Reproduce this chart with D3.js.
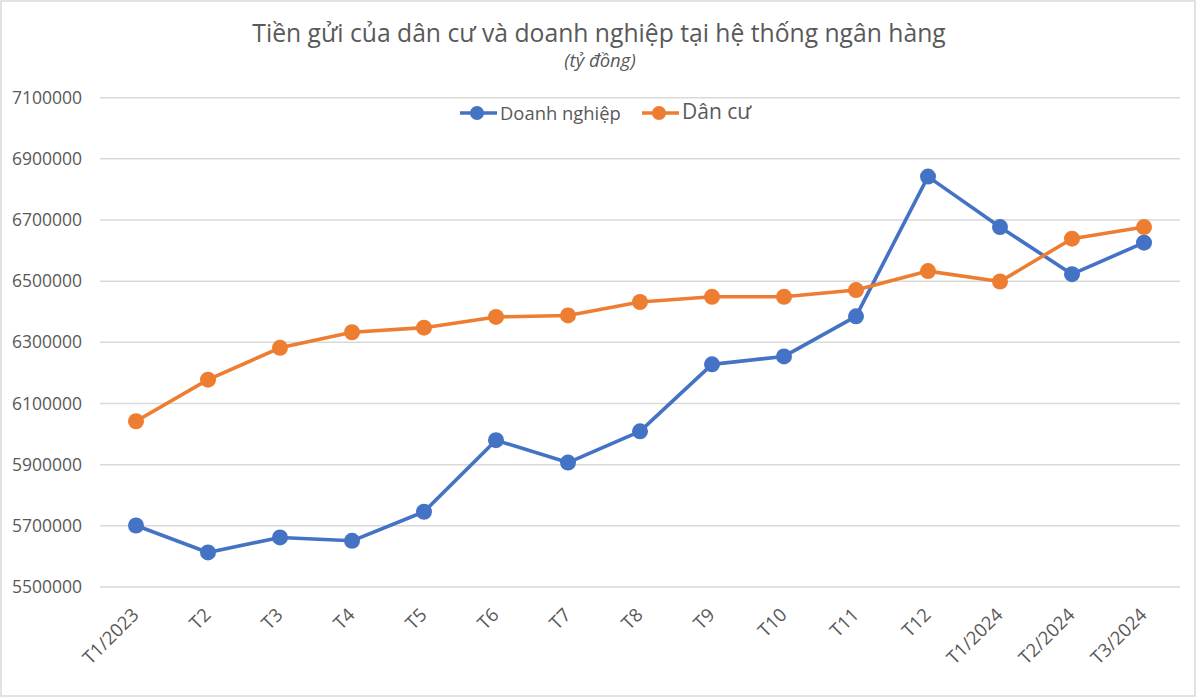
<!DOCTYPE html>
<html>
<head>
<meta charset="utf-8">
<script src="https://cdn.jsdelivr.net/npm/d3@7"></script>
<style>
  html, body { margin: 0; padding: 0; background: #ffffff; }
  svg { display: block; }
  text { font-family: "Open Sans", "Noto Sans", sans-serif; fill: #595959; }
</style>
</head>
<body>
<svg id="chart" width="1200" height="698"></svg>
<script>
const categories = ["T1/2023", "T2", "T3", "T4", "T5", "T6", "T7", "T8", "T9", "T10", "T11", "T12", "T1/2024", "T2/2024", "T3/2024"];
const doanhNghiep = [5701000, 5613000, 5662000, 5651000, 5746000, 5980000, 5907000, 6009000, 6228000, 6254000, 6385000, 6842000, 6677000, 6523000, 6626000];
const danCu = [6042000, 6178000, 6282000, 6333000, 6348000, 6383000, 6388000, 6432000, 6449000, 6449000, 6471000, 6533000, 6499000, 6639000, 6677000];
const yTicks = [5500000, 5700000, 5900000, 6100000, 6300000, 6500000, 6700000, 6900000, 7100000];
const seriesNames = ["Doanh nghiệp", "Dân cư"];
const titleText = "Tiền gửi của dân cư và doanh nghiệp tại hệ thống ngân hàng";
const subtitleText = "(tỷ đồng)";

const colors = ["#4472C4", "#ED7D31"];
const series = [doanhNghiep, danCu];

const svg = d3.select("#chart");
const W = 1200, H = 698;

svg.append("rect").attr("x", 0).attr("y", 0).attr("width", W).attr("height", H).attr("fill", "#ffffff");
svg.append("rect").attr("x", 1).attr("y", 1).attr("width", 1194).attr("height", 695)
  .attr("fill", "none").attr("stroke", "#d9d9d9").attr("stroke-width", 1.5);

const plot = { left: 100, right: 1180, top: 97.7, bottom: 587 };

const x = d3.scaleBand().domain(categories).range([plot.left, plot.right]).paddingInner(0).paddingOuter(0);
const y = d3.scaleLinear().domain([5500000, 7100000]).range([plot.bottom, plot.top]);

// gridlines
svg.append("g").selectAll("line").data(yTicks).join("line")
  .attr("x1", plot.left).attr("x2", plot.right)
  .attr("y1", d => y(d)).attr("y2", d => y(d))
  .attr("stroke", "#d9d9d9").attr("stroke-width", 1.5);

// y axis labels
const yAxis = d3.axisLeft(y).tickValues(yTicks).tickSize(0).tickPadding(0).tickFormat(d3.format("d"));
const yg = svg.append("g").attr("transform", `translate(${plot.left - 18},0)`).call(yAxis);
yg.select(".domain").remove();
yg.selectAll("text").style("font-size", "17.5px").attr("fill", "#595959")
  .style("font-family", '"Open Sans", sans-serif');

// x axis labels
const xAxis = d3.axisBottom(x).tickSize(0).tickPadding(0);
const xg = svg.append("g").attr("transform", `translate(0,${plot.bottom})`).call(xAxis);
xg.select(".domain").remove();
xg.selectAll("text")
  .style("font-size", "18.5px").attr("fill", "#595959")
  .style("font-family", '"Open Sans", sans-serif')
  .attr("text-anchor", "end")
  .attr("y", 0).attr("dy", 0)
  .attr("transform", "translate(4,29) rotate(-45)");

// lines
const line = d3.line().x((d, i) => x(categories[i]) + x.bandwidth() / 2).y(d => y(d));
series.forEach((s, k) => {
  svg.append("path").datum(s).attr("d", line)
    .attr("fill", "none").attr("stroke", colors[k]).attr("stroke-width", 3.6)
    .attr("stroke-linejoin", "round");
  svg.append("g").selectAll("circle").data(s).join("circle")
    .attr("cx", (d, i) => x(categories[i]) + x.bandwidth() / 2)
    .attr("cy", d => y(d))
    .attr("r", 8)
    .attr("fill", colors[k]);
});

// title
svg.append("text").attr("x", 599).attr("y", 42).attr("text-anchor", "middle")
  .style("font-size", "24.7px").text(titleText);
svg.append("text").attr("x", 600).attr("y", 67).attr("text-anchor", "middle")
  .style("font-size", "18.5px").style("font-style", "italic").text(subtitleText);

// legend
const legendItems = [
  { name: seriesNames[0], color: colors[0], x0: 460, size: 18.4, by: 120 },
  { name: seriesNames[1], color: colors[1], x0: 642, size: 21, by: 119 }
];
const lg = svg.append("g");
legendItems.forEach(it => {
  lg.append("line").attr("x1", it.x0).attr("x2", it.x0 + 37).attr("y1", 113).attr("y2", 113)
    .attr("stroke", it.color).attr("stroke-width", 3.6);
  lg.append("circle").attr("cx", it.x0 + 17).attr("cy", 113).attr("r", 7).attr("fill", it.color);
  lg.append("text").attr("x", it.x0 + 40).attr("y", it.by).style("font-size", it.size + "px").text(it.name);
});
</script>
</body>
</html>
